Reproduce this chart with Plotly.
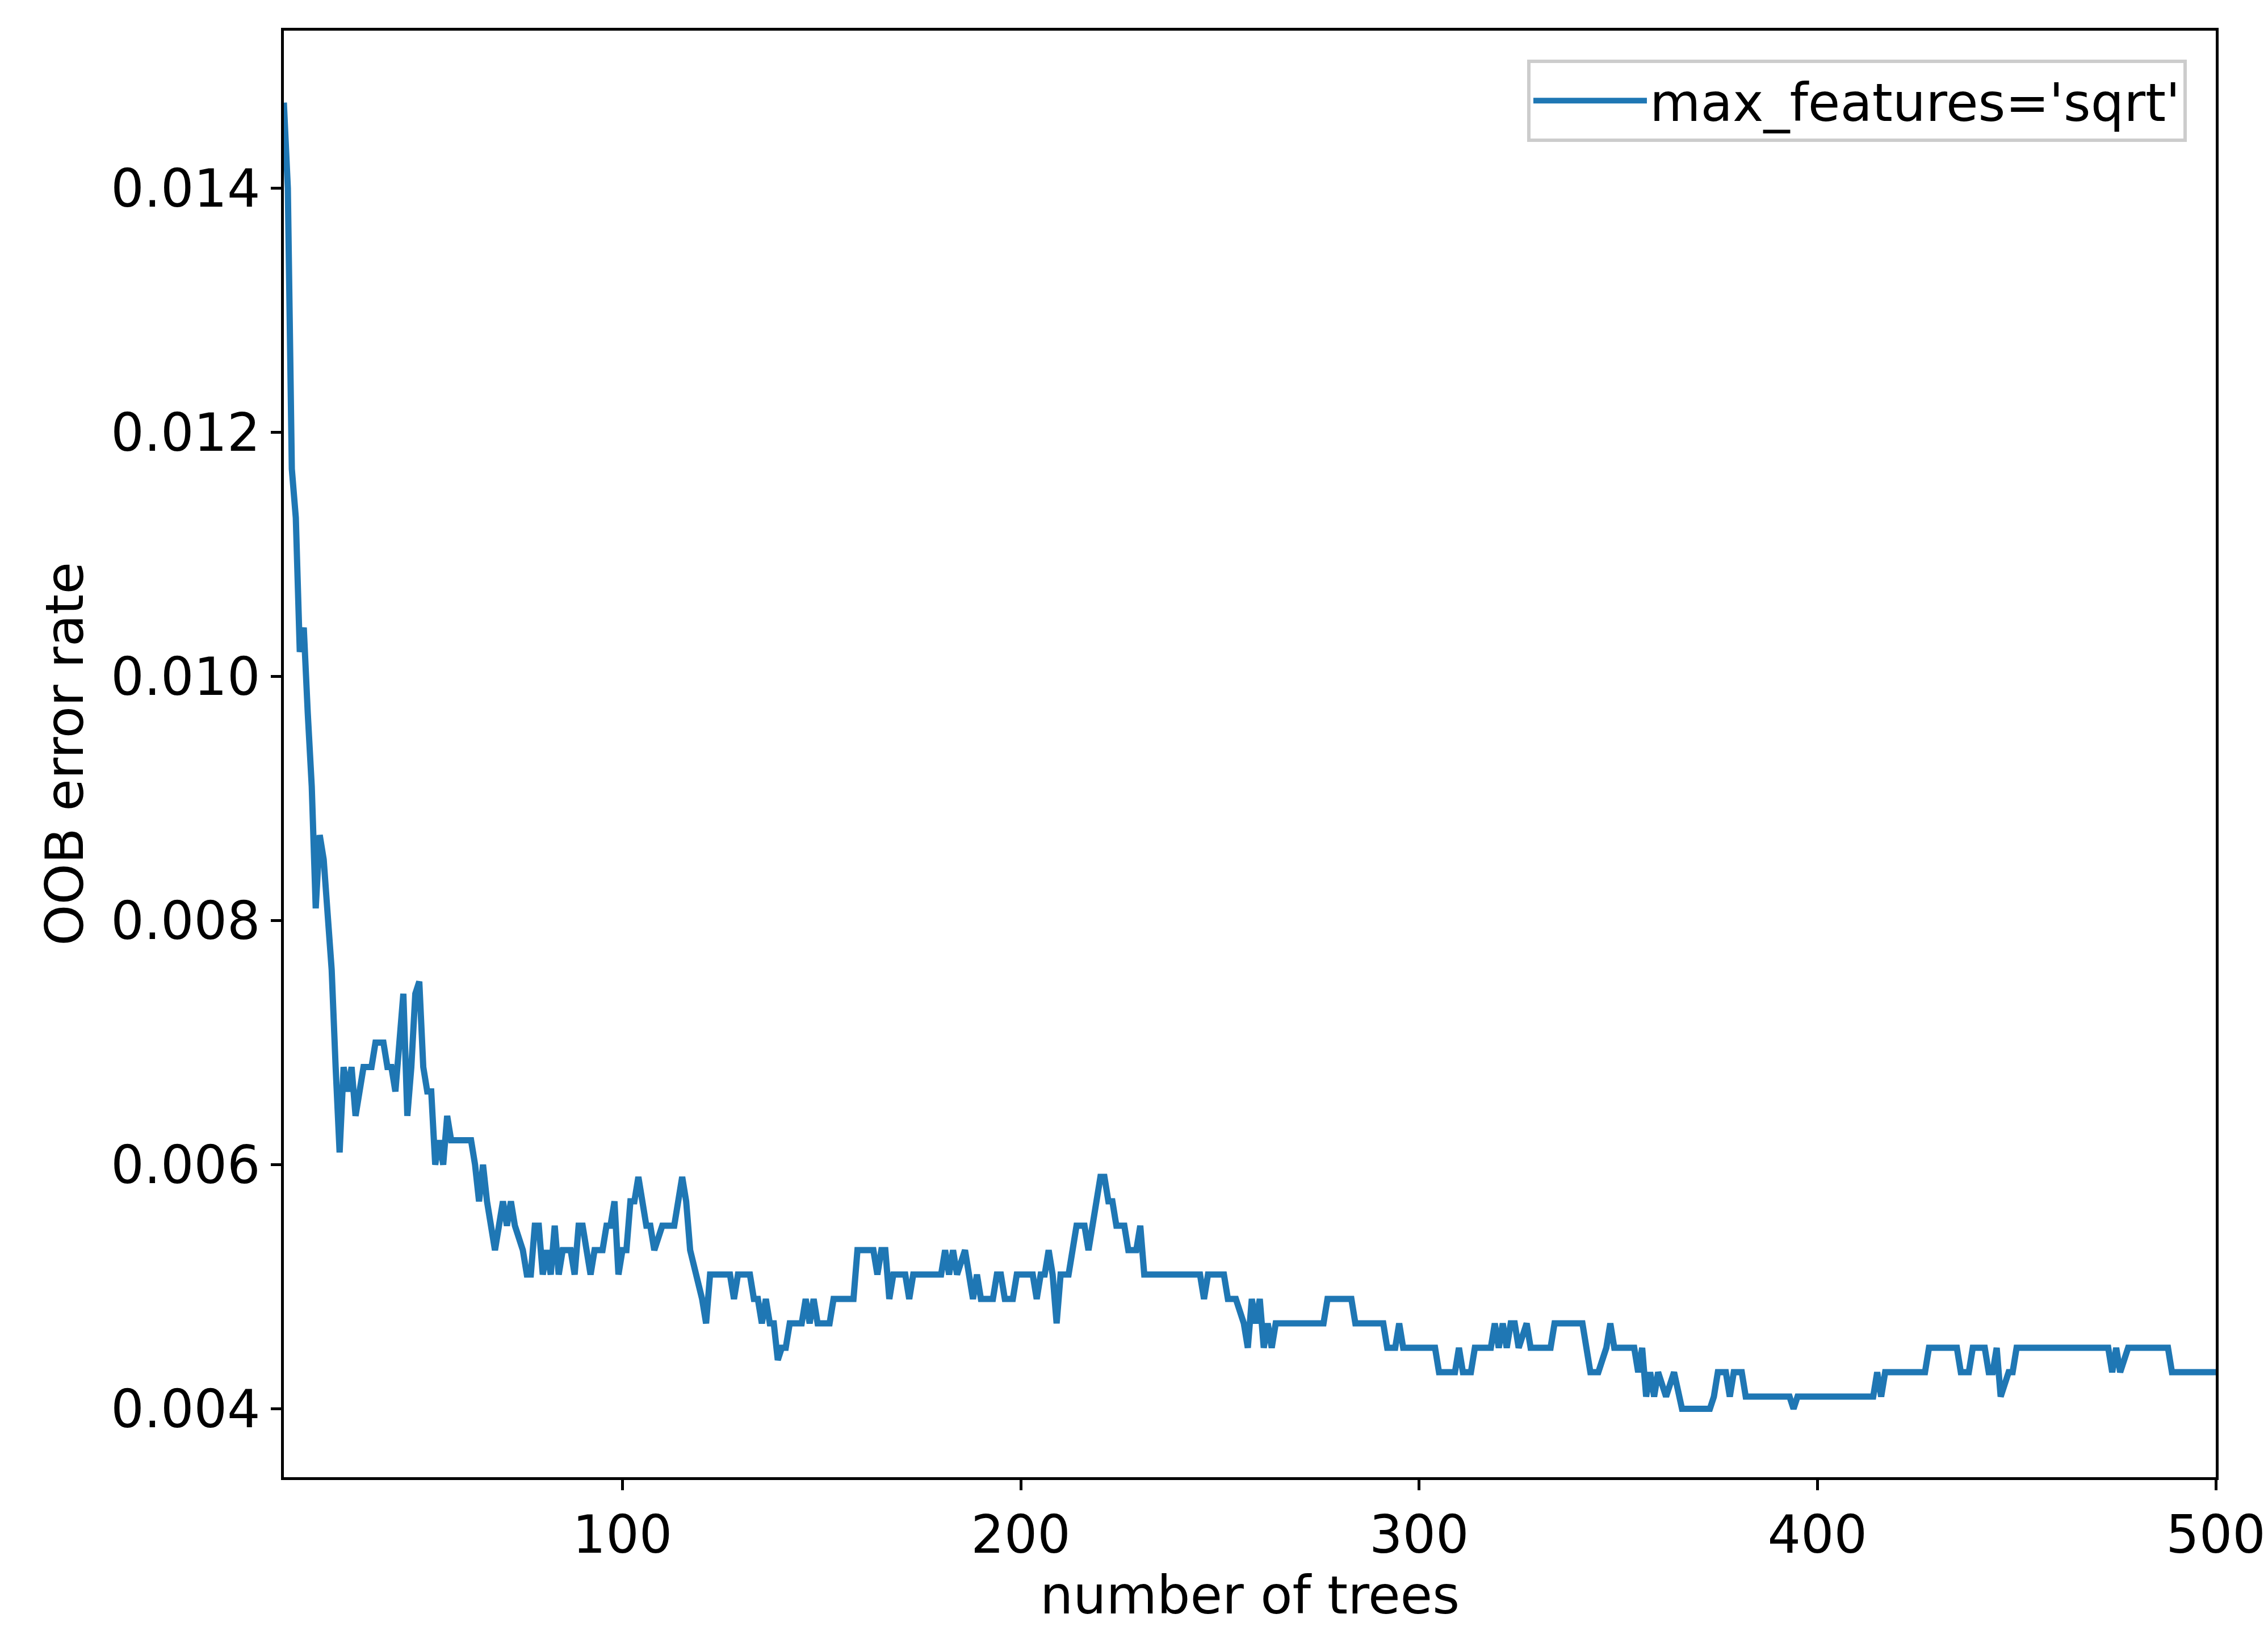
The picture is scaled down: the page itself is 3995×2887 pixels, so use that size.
import plotly.graph_objects as go

n_trees = [15, 16, 17, 18, 19, 20, 21, 22, 23, 24, 25, 26, 27, 28, 29, 30, 31, 32, 33, 35,
           37, 38, 40, 41, 42, 43, 44, 45, 46, 47, 48, 49, 50, 51, 52, 53, 54, 55, 56, 57,
           62, 63, 64, 65, 66, 68, 69, 70, 71, 72, 73, 75, 76, 77, 78, 79, 80, 81, 82, 83,
           84, 85, 87, 88, 89, 90, 91, 92, 93, 95, 96, 97, 98, 99, 100, 101, 102, 103, 104, 105,
           106, 107, 108, 110, 113, 114, 115, 116, 117, 120, 121, 122, 127, 128, 129, 132, 133, 134, 135, 136,
           137, 138, 139, 140, 141, 142, 145, 146, 147, 148, 149, 152, 153, 158, 159, 163, 164, 165, 166, 167,
           168, 171, 172, 173, 180, 181, 182, 183, 184, 186, 187, 188, 189, 190, 193, 194, 195, 196, 198, 199,
           203, 204, 205, 206, 207, 208, 209, 210, 212, 213, 214, 216, 217, 218, 219, 220, 221, 222, 223, 224,
           226, 227, 229, 230, 231, 245, 246, 247, 251, 252, 254, 256, 257, 258, 259, 260, 261, 262, 263, 264,
           276, 277, 283, 284, 291, 292, 294, 295, 296, 304, 305, 309, 310, 311, 313, 314, 318, 319, 320, 321,
           322, 323, 324, 325, 327, 328, 333, 334, 341, 343, 345, 347, 348, 349, 354, 355, 356, 357, 358, 359,
           360, 362, 364, 366, 373, 374, 375, 377, 378, 379, 380, 381, 382, 393, 394, 395, 414, 415, 416, 417,
           427, 428, 435, 436, 438, 439, 442, 443, 444, 445, 446, 448, 449, 450, 452, 473, 474, 475, 476, 478,
           488, 489, 500]
oob_error = [0.0147, 0.0140, 0.0117, 0.0113, 0.0102, 0.0104, 0.0097, 0.0091, 0.0081, 0.0087, 0.0085, 0.0081, 0.0076, 0.0068, 0.0061, 0.0068, 0.0066, 0.0068, 0.0064, 0.0068,
             0.0068, 0.0070, 0.0070, 0.0068, 0.0068, 0.0066, 0.0070, 0.0074, 0.0064, 0.0068, 0.0074, 0.0075, 0.0068, 0.0066, 0.0066, 0.0060, 0.0062, 0.0060, 0.0064, 0.0062,
             0.0062, 0.0060, 0.0057, 0.0060, 0.0057, 0.0053, 0.0055, 0.0057, 0.0055, 0.0057, 0.0055, 0.0053, 0.0051, 0.0051, 0.0055, 0.0055, 0.0051, 0.0053, 0.0051, 0.0055,
             0.0051, 0.0053, 0.0053, 0.0051, 0.0055, 0.0055, 0.0053, 0.0051, 0.0053, 0.0053, 0.0055, 0.0055, 0.0057, 0.0051, 0.0053, 0.0053, 0.0057, 0.0057, 0.0059, 0.0057,
             0.0055, 0.0055, 0.0053, 0.0055, 0.0055, 0.0057, 0.0059, 0.0057, 0.0053, 0.0049, 0.0047, 0.0051, 0.0051, 0.0049, 0.0051, 0.0051, 0.0049, 0.0049, 0.0047, 0.0049,
             0.0047, 0.0047, 0.0044, 0.0045, 0.0045, 0.0047, 0.0047, 0.0049, 0.0047, 0.0049, 0.0047, 0.0047, 0.0049, 0.0049, 0.0053, 0.0053, 0.0051, 0.0053, 0.0053, 0.0049,
             0.0051, 0.0051, 0.0049, 0.0051, 0.0051, 0.0053, 0.0051, 0.0053, 0.0051, 0.0053, 0.0051, 0.0049, 0.0051, 0.0049, 0.0049, 0.0051, 0.0051, 0.0049, 0.0049, 0.0051,
             0.0051, 0.0049, 0.0051, 0.0051, 0.0053, 0.0051, 0.0047, 0.0051, 0.0051, 0.0053, 0.0055, 0.0055, 0.0053, 0.0055, 0.0057, 0.0059, 0.0059, 0.0057, 0.0057, 0.0055,
             0.0055, 0.0053, 0.0053, 0.0055, 0.0051, 0.0051, 0.0049, 0.0051, 0.0051, 0.0049, 0.0049, 0.0047, 0.0045, 0.0049, 0.0047, 0.0049, 0.0045, 0.0047, 0.0045, 0.0047,
             0.0047, 0.0049, 0.0049, 0.0047, 0.0047, 0.0045, 0.0045, 0.0047, 0.0045, 0.0045, 0.0043, 0.0043, 0.0045, 0.0043, 0.0043, 0.0045, 0.0045, 0.0047, 0.0045, 0.0047,
             0.0045, 0.0047, 0.0047, 0.0045, 0.0047, 0.0045, 0.0045, 0.0047, 0.0047, 0.0043, 0.0043, 0.0045, 0.0047, 0.0045, 0.0045, 0.0043, 0.0045, 0.0041, 0.0043, 0.0041,
             0.0043, 0.0041, 0.0043, 0.0040, 0.0040, 0.0041, 0.0043, 0.0043, 0.0041, 0.0043, 0.0043, 0.0043, 0.0041, 0.0041, 0.0040, 0.0041, 0.0041, 0.0043, 0.0041, 0.0043,
             0.0043, 0.0045, 0.0045, 0.0043, 0.0043, 0.0045, 0.0045, 0.0043, 0.0043, 0.0045, 0.0041, 0.0043, 0.0043, 0.0045, 0.0045, 0.0045, 0.0043, 0.0045, 0.0043, 0.0045,
             0.0045, 0.0043, 0.0043]

fig = go.Figure()
fig.add_trace(go.Scatter(
    x=n_trees,
    y=oob_error,
    mode='lines',
    name="max_features='sqrt'",
    line=dict(color='#1f77b4', width=11)
))

axis_style = dict(
    showline=True, linecolor='black', linewidth=5, mirror=True,
    ticks='outside', ticklen=18, tickwidth=5, tickcolor='black',
    showgrid=False, zeroline=False,
    tickfont=dict(size=92, color='black'),
)

fig.update_layout(
    width=3995, height=2887,
    plot_bgcolor='white', paper_bgcolor='white',
    font=dict(family='DejaVu Sans', size=92, color='black'),
    margin=dict(l=492, r=92, t=46, b=293),
    xaxis=dict(range=[15, 500], tickvals=[100, 200, 300, 400, 500],
               title=dict(text='number of trees', font=dict(size=92), standoff=20), **axis_style),
    yaxis=dict(range=[0.00344, 0.01529], tickvals=[0.004, 0.006, 0.008, 0.010, 0.012, 0.014],
               tickformat='.3f',
               title=dict(text='OOB error rate', font=dict(size=92), standoff=20), **axis_style),
    legend=dict(x=0.985, y=0.98, xanchor='right', yanchor='top',
                bgcolor='white', bordercolor='#cccccc', borderwidth=6,
                itemwidth=200, font=dict(size=92)),
    showlegend=True,
)

fig.write_html("out.html")
